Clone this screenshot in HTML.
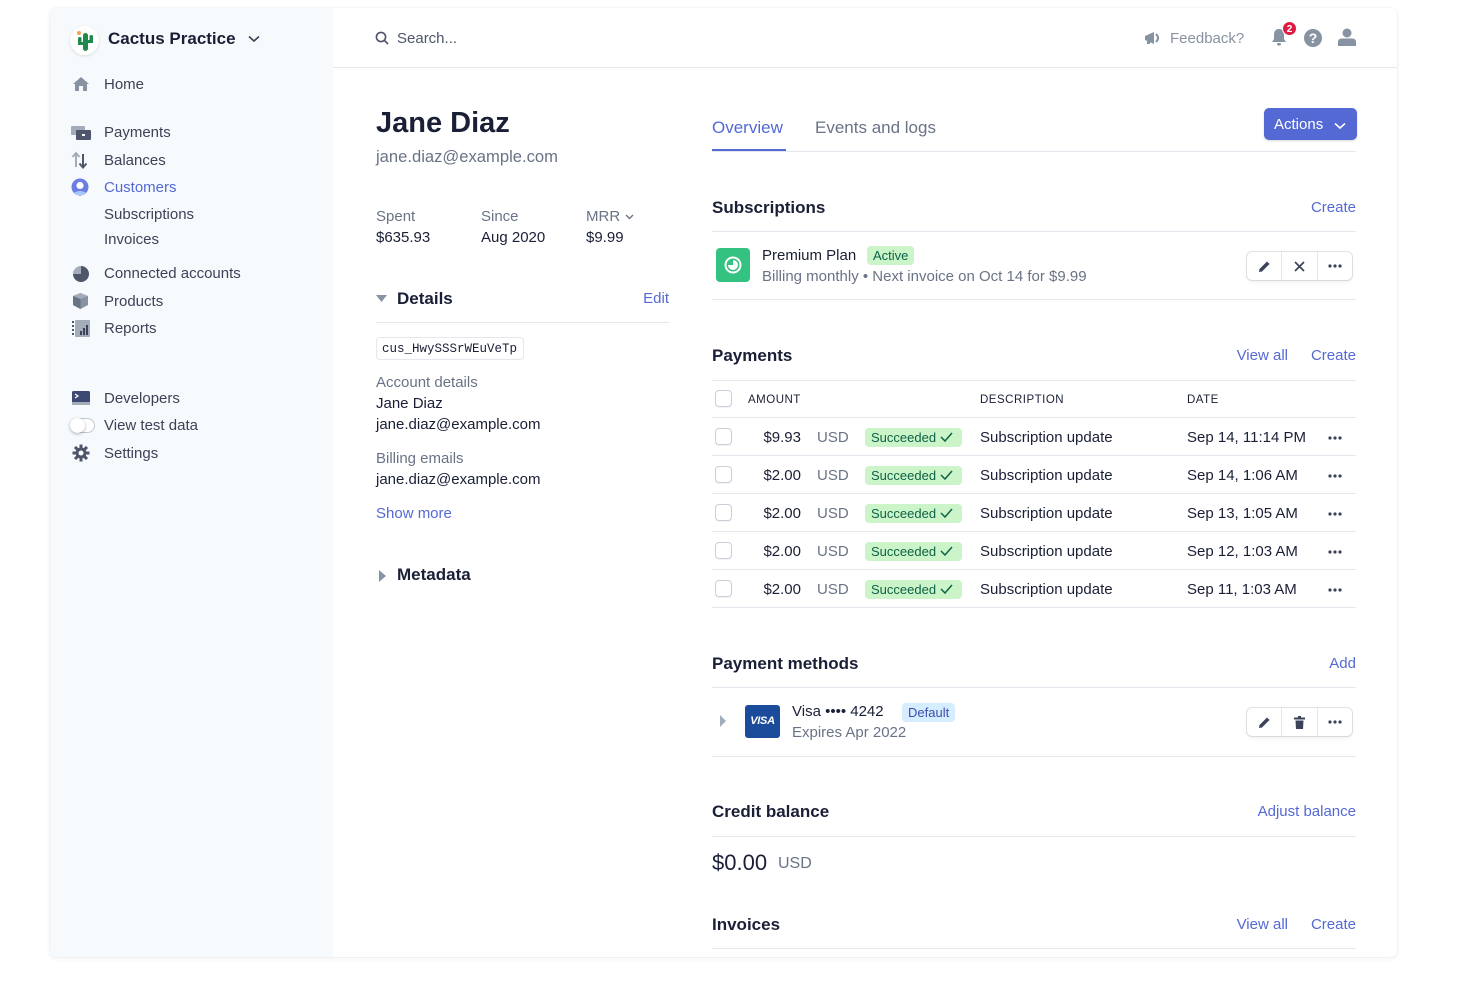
<!DOCTYPE html>
<html><head><meta charset="utf-8">
<style>
*{margin:0;padding:0;box-sizing:border-box}
html,body{width:1480px;height:987px;background:#fff;overflow:hidden}
body{font-family:"Liberation Sans",Arial,sans-serif;color:#3c4257;position:relative}
.t{position:absolute;white-space:nowrap;line-height:20px;font-size:15px;margin-top:1px}
.r{text-align:right}
.h{font-weight:bold;font-size:17px;color:#1a1f36}
.g{color:#697386}
.d{color:#1a1f36}
.b{color:#5469d4}
.ln{position:absolute;height:1px;background:#e3e8ee}
.card{position:absolute;left:50px;top:8px;width:1347px;height:949px;border-radius:6px;background:#fff;box-shadow:0 0 0 1px rgba(60,66,87,0.04),0 2px 6px rgba(60,66,87,0.05)}
.side{position:absolute;left:50px;top:8px;width:283px;height:949px;background:#f7fafc;border-radius:6px 0 0 6px}
.cb{position:absolute;width:17px;height:17px;border:1px solid #c9d0d9;border-radius:4px;background:#fff;box-shadow:0 1px 1px rgba(0,0,0,0.05)}
.bdg{position:absolute;height:19px;line-height:19px;font-size:13px;border-radius:4px;padding:0 6px;white-space:nowrap}
.suc{background:#cbf4c9;color:#0e6245}
.btns{position:absolute;width:105px;height:28px;border-radius:5px;background:#fff;box-shadow:0 0 0 1px rgba(60,66,87,0.14),0 2px 4px rgba(60,66,87,0.08);display:flex}
.btns div{flex:1;display:flex;align-items:center;justify-content:center;border-left:1px solid #e3e8ee}
.btns div:first-child{border-left:none}
.ic{position:absolute}
</style></head><body>
<div class="card"></div>
<div class="side"></div>

<!-- Sidebar -->
<div class="ic" style="left:70px;top:26px;width:29px;height:29px;border-radius:50%;background:#fff;box-shadow:0 1px 3px rgba(0,0,0,0.12)"></div>
<svg class="ic" style="left:74px;top:28px" width="22" height="26" viewBox="0 0 22 26">
<circle cx="5" cy="5" r="2" fill="#f5a04a"/>
<rect x="9" y="5" width="5" height="18" rx="2.5" fill="#1f8a4c"/>
<rect x="4" y="9" width="3.5" height="8" rx="1.7" fill="#1f8a4c"/>
<rect x="4" y="14" width="7" height="3" fill="#1f8a4c"/>
<rect x="15.5" y="7" width="3.5" height="8" rx="1.7" fill="#1f8a4c"/>
<rect x="12" y="12" width="7" height="3" fill="#1f8a4c"/>
</svg>
<div class="t d" style="left:108px;top:28px;font-size:17px;font-weight:bold;color:#1a1f36">Cactus Practice</div>
<svg class="ic" style="left:248px;top:35px" width="12" height="8" viewBox="0 0 12 8"><path d="M1 1.5 L6 6 L11 1.5" fill="none" stroke="#3c4257" stroke-width="1.6"/></svg>

<svg class="ic" style="left:72px;top:76px" width="18" height="16" viewBox="0 0 18 16"><path d="M9 1 L17 8 L15 8 L15 15 L11 15 L11 10 L7 10 L7 15 L3 15 L3 8 L1 8 Z" fill="#8792a2"/></svg>
<div class="t" style="left:104px;top:74px">Home</div>

<svg class="ic" style="left:71px;top:126px" width="20" height="14" viewBox="0 0 20 14"><rect x="0" y="0" width="14" height="9" rx="1" fill="#a3acb9"/><rect x="5" y="4" width="15" height="10" rx="1" fill="#4f566b"/><rect x="11" y="8" width="3" height="2" fill="#fff"/></svg>
<div class="t" style="left:104px;top:122px">Payments</div>
<svg class="ic" style="left:71px;top:151px" width="18" height="18" viewBox="0 0 18 18"><path d="M5 16 L5 3 M1.5 6 L5 2 L8.5 6" fill="none" stroke="#a3acb9" stroke-width="2"/><path d="M12 3 L12 16 M8.5 12.5 L12 16.5 L15.5 12.5" fill="none" stroke="#4f566b" stroke-width="2"/></svg>
<div class="t" style="left:104px;top:150px">Balances</div>
<svg class="ic" style="left:71px;top:178px" width="18" height="18" viewBox="0 0 18 18"><circle cx="9" cy="9" r="8.5" fill="#6c7ee1"/><circle cx="9" cy="7.5" r="3.6" fill="#fff"/><path d="M3 15 Q9 11 15 15 L13 17 L5 17Z" fill="#a8c7fa"/></svg>
<div class="t b" style="left:104px;top:177px">Customers</div>
<div class="t" style="left:104px;top:204px">Subscriptions</div>
<div class="t" style="left:104px;top:229px">Invoices</div>

<svg class="ic" style="left:72px;top:265px" width="18" height="18" viewBox="0 0 18 18"><circle cx="9" cy="9" r="8" fill="#e3e8ee"/><path d="M9 1 A8 8 0 1 1 1 9 L9 9 Z" fill="#4f566b"/><path d="M9 1 A8 8 0 0 0 1 9 L9 9Z" fill="#a3acb9"/></svg>
<div class="t" style="left:104px;top:263px">Connected accounts</div>
<svg class="ic" style="left:72px;top:292px" width="17" height="18" viewBox="0 0 17 18"><path d="M8.5 1 L16 4 L16 13 L8.5 17 L1 13 L1 4Z" fill="#8792a2"/><path d="M8.5 1 L16 4 L8.5 7 L1 4Z" fill="#a3acb9"/><path d="M8.5 7 L8.5 17 L1 13 L1 4Z" fill="#697386"/></svg>
<div class="t" style="left:104px;top:291px">Products</div>
<svg class="ic" style="left:72px;top:320px" width="18" height="17" viewBox="0 0 18 17"><rect x="3" y="0" width="15" height="17" rx="1" fill="#a3acb9"/><rect x="0" y="1" width="2" height="2" fill="#4f566b"/><rect x="0" y="5" width="2" height="2" fill="#4f566b"/><rect x="0" y="9" width="2" height="2" fill="#4f566b"/><rect x="0" y="13" width="2" height="2" fill="#4f566b"/><rect x="8" y="11" width="2" height="4" fill="#3c4257"/><rect x="11" y="8" width="2" height="7" fill="#3c4257"/><rect x="14" y="5" width="2" height="10" fill="#3c4257"/></svg>
<div class="t" style="left:104px;top:318px">Reports</div>

<svg class="ic" style="left:72px;top:391px" width="18" height="14" viewBox="0 0 18 14"><rect width="18" height="14" rx="1.5" fill="#3c4a72"/><path d="M3 3 L6 5 L3 7" fill="none" stroke="#fff" stroke-width="1.2"/><rect y="11" width="18" height="3" fill="#a3acb9"/></svg>
<div class="t" style="left:104px;top:388px">Developers</div>
<div class="ic" style="left:70px;top:418px;width:25px;height:15px;border-radius:8px;background:#fff;border:1px solid #c1c9d2"></div>
<div class="ic" style="left:70px;top:418px;width:15px;height:15px;border-radius:50%;background:#fff;box-shadow:0 1px 3px rgba(0,0,0,0.3)"></div>
<div class="t" style="left:104px;top:415px">View test data</div>
<svg class="ic" style="left:72px;top:444px" width="18" height="18" viewBox="0 0 18 18"><g fill="#4f566b"><circle cx="9" cy="9" r="5.5"/><rect x="7.5" y="0.5" width="3" height="17"/><rect x="0.5" y="7.5" width="17" height="3"/><rect x="7.5" y="0.5" width="3" height="17" transform="rotate(45 9 9)"/><rect x="7.5" y="0.5" width="3" height="17" transform="rotate(-45 9 9)"/></g><circle cx="9" cy="9" r="2.5" fill="#f7fafc"/></svg>
<div class="t" style="left:104px;top:443px">Settings</div>

<!-- Header -->
<div class="ln" style="left:333px;top:67px;width:1064px"></div>
<svg class="ic" style="left:375px;top:31px" width="14" height="14" viewBox="0 0 14 14"><circle cx="6" cy="6" r="4.6" fill="none" stroke="#4f566b" stroke-width="1.6"/><path d="M9.5 9.5 L13 13" stroke="#4f566b" stroke-width="1.6"/></svg>
<div class="t" style="left:397px;top:28px;color:#4f566b">Search...</div>

<svg class="ic" style="left:1144px;top:31px" width="18" height="14" viewBox="0 0 18 14"><path d="M1 5 L10 1 L10 13 L1 9Z" fill="#8792a2"/><rect x="3" y="9" width="3" height="4" fill="#8792a2"/><path d="M12 3 Q16 7 12 11" fill="none" stroke="#8792a2" stroke-width="2"/></svg>
<div class="t" style="left:1170px;top:28px;color:#8792a2">Feedback?</div>
<svg class="ic" style="left:1271px;top:28px" width="16" height="19" viewBox="0 0 16 19"><path d="M8 1 C4 1 3 4 3 7 L3 11 L1 14 L15 14 L13 11 L13 7 C13 4 12 1 8 1Z" fill="#8792a2"/><rect x="6" y="15" width="4" height="2.5" rx="1.2" fill="#8792a2"/></svg>
<div class="ic" style="left:1282px;top:21px;width:15px;height:15px;border-radius:50%;background:#df1b41;color:#fff;font-size:10px;font-weight:bold;line-height:15px;text-align:center;border:1px solid #fff">2</div>
<div class="ic" style="left:1304px;top:29px;width:18px;height:18px;border-radius:50%;background:#8792a2;color:#fff;font-size:14px;font-weight:bold;line-height:18px;text-align:center">?</div>
<svg class="ic" style="left:1338px;top:28px" width="18" height="18" viewBox="0 0 18 18"><circle cx="9" cy="5" r="4.5" fill="#8792a2"/><path d="M0 18 L0 14 Q0 10.5 4 10.5 L14 10.5 Q18 10.5 18 14 L18 18Z" fill="#8792a2"/></svg>

<!-- Left column -->
<div class="t" style="left:376px;top:105px;font-size:29px;line-height:34px;font-weight:bold;color:#1a1f36">Jane Diaz</div>
<div class="t g" style="left:376px;top:146px;font-size:16.6px">jane.diaz@example.com</div>

<div class="t g" style="left:376px;top:206px">Spent</div>
<div class="t d" style="left:376px;top:227px">$635.93</div>
<div class="t g" style="left:481px;top:206px">Since</div>
<div class="t d" style="left:481px;top:227px">Aug 2020</div>
<div class="t g" style="left:586px;top:206px">MRR</div>
<svg class="ic" style="left:625px;top:214px" width="9" height="6" viewBox="0 0 9 6"><path d="M1 1 L4.5 4.5 L8 1" fill="none" stroke="#697386" stroke-width="1.4"/></svg>
<div class="t d" style="left:586px;top:227px">$9.99</div>

<svg class="ic" style="left:376px;top:295px" width="11" height="8" viewBox="0 0 11 8"><path d="M0 0 L11 0 L5.5 7Z" fill="#8792a2"/></svg>
<div class="t h" style="left:397px;top:288px">Details</div>
<div class="t b r" style="left:600px;top:288px;width:69px">Edit</div>
<div class="ln" style="left:376px;top:322px;width:293px"></div>
<div class="ic" style="left:376px;top:337px;width:148px;height:23px;border:1px solid #e3e8ee;border-radius:4px;background:#fff"></div>
<div class="t d" style="left:382px;top:338px;font-family:'Liberation Mono',monospace;font-size:12.5px;color:#1a1f36">cus_HwySSSrWEuVeTp</div>

<div class="t g" style="left:376px;top:372px">Account details</div>
<div class="t d" style="left:376px;top:393px;color:#1a1f36">Jane Diaz</div>
<div class="t d" style="left:376px;top:414px">jane.diaz@example.com</div>
<div class="t g" style="left:376px;top:448px">Billing emails</div>
<div class="t d" style="left:376px;top:469px">jane.diaz@example.com</div>
<div class="t b" style="left:376px;top:503px">Show more</div>

<svg class="ic" style="left:379px;top:570px" width="7" height="12" viewBox="0 0 7 12"><path d="M0 0 L7 6 L0 12Z" fill="#8792a2"/></svg>
<div class="t h" style="left:397px;top:564px">Metadata</div>

<!-- Right column -->
<div class="t b" style="left:712px;top:116px;font-size:17px;line-height:22px">Overview</div>
<div class="t g" style="left:815px;top:116px;font-size:17px;line-height:22px;color:#697386">Events and logs</div>
<div class="ln" style="left:712px;top:151px;width:644px"></div>
<div class="ic" style="left:712px;top:149px;width:74px;height:2px;background:#5469d4"></div>

<div class="ic" style="left:1264px;top:108px;width:93px;height:32px;border-radius:5px;background:#5469d4;box-shadow:0 1px 2px rgba(0,0,0,0.15)"></div>
<div class="t" style="left:1274px;top:114px;color:#fff">Actions</div>
<svg class="ic" style="left:1334px;top:122px" width="12" height="8" viewBox="0 0 12 8"><path d="M1 1.5 L6 6 L11 1.5" fill="none" stroke="#fff" stroke-width="1.6"/></svg>

<!-- Subscriptions -->
<div class="t h" style="left:712px;top:197px">Subscriptions</div>
<div class="t b r" style="left:1256px;top:197px;width:100px">Create</div>
<div class="ln" style="left:712px;top:231px;width:644px"></div>
<div class="ic" style="left:716px;top:248px;width:34px;height:34px;border-radius:4px;background:#33c27f"></div>
<svg class="ic" style="left:723px;top:255px" width="20" height="20" viewBox="0 0 20 20"><circle cx="10" cy="10" r="7.5" fill="none" stroke="#fff" stroke-width="2"/><path d="M10 5 A5 5 0 1 1 5 10 L10 10Z" fill="#fff"/></svg>
<div class="t d" style="left:762px;top:245px">Premium Plan</div>
<div class="bdg suc" style="left:867px;top:246px">Active</div>
<div class="t g" style="left:762px;top:266px">Billing monthly • Next invoice on Oct 14 for $9.99</div>
<div class="btns" style="left:1247px;top:252px">
 <div><svg width="13" height="13" viewBox="0 0 13 13"><path d="M1 12 L1.5 9 L9 1.5 L11.5 4 L4 11.5Z" fill="#3c4257"/></svg></div>
 <div><svg width="11" height="11" viewBox="0 0 11 11"><path d="M1 1 L10 10 M10 1 L1 10" stroke="#3c4257" stroke-width="1.7"/></svg></div>
 <div><svg width="14" height="4" viewBox="0 0 14 4"><circle cx="2" cy="2" r="1.6" fill="#3c4257"/><circle cx="7" cy="2" r="1.6" fill="#3c4257"/><circle cx="12" cy="2" r="1.6" fill="#3c4257"/></svg></div>
</div>
<div class="ln" style="left:712px;top:299px;width:644px"></div>

<!-- Payments -->
<div class="t h" style="left:712px;top:345px">Payments</div>
<div class="t b r" style="left:1188px;top:345px;width:100px">View all</div>
<div class="t b r" style="left:1256px;top:345px;width:100px">Create</div>
<div class="ln" style="left:712px;top:380px;width:644px"></div>

<div class="cb" style="left:715px;top:390px"></div>
<div class="t d" style="left:748px;top:389px;font-size:11.5px;letter-spacing:0.5px;color:#1a1f36">AMOUNT</div>
<div class="t d" style="left:980px;top:389px;font-size:11.5px;letter-spacing:0.5px;color:#1a1f36">DESCRIPTION</div>
<div class="t d" style="left:1187px;top:389px;font-size:11.5px;letter-spacing:0.5px;color:#1a1f36">DATE</div>
<div class="ln" style="left:712px;top:417px;width:644px"></div>

<!-- rows -->
<div class="cb" style="left:715px;top:428px"></div>
<div class="t d r" style="left:720px;top:427px;width:81px">$9.93</div>
<div class="t g" style="left:817px;top:427px">USD</div>
<div class="bdg suc" style="left:865px;top:428px;width:97px">Succeeded <svg width="13" height="10" viewBox="0 0 13 10"><path d="M1 5 L5 9 L12 1" fill="none" stroke="#0e6245" stroke-width="1.5"/></svg></div>
<div class="t d" style="left:980px;top:427px">Subscription update</div>
<div class="t d" style="left:1187px;top:427px">Sep 14, 11:14 PM</div>
<svg class="ic" style="left:1328px;top:436px" width="14" height="4" viewBox="0 0 14 4"><circle cx="2" cy="2" r="1.6" fill="#3c4257"/><circle cx="7" cy="2" r="1.6" fill="#3c4257"/><circle cx="12" cy="2" r="1.6" fill="#3c4257"/></svg>
<div class="ln" style="left:712px;top:455px;width:644px"></div>

<div class="cb" style="left:715px;top:466px"></div>
<div class="t d r" style="left:720px;top:465px;width:81px">$2.00</div>
<div class="t g" style="left:817px;top:465px">USD</div>
<div class="bdg suc" style="left:865px;top:466px;width:97px">Succeeded <svg width="13" height="10" viewBox="0 0 13 10"><path d="M1 5 L5 9 L12 1" fill="none" stroke="#0e6245" stroke-width="1.5"/></svg></div>
<div class="t d" style="left:980px;top:465px">Subscription update</div>
<div class="t d" style="left:1187px;top:465px">Sep 14, 1:06 AM</div>
<svg class="ic" style="left:1328px;top:474px" width="14" height="4" viewBox="0 0 14 4"><circle cx="2" cy="2" r="1.6" fill="#3c4257"/><circle cx="7" cy="2" r="1.6" fill="#3c4257"/><circle cx="12" cy="2" r="1.6" fill="#3c4257"/></svg>
<div class="ln" style="left:712px;top:493px;width:644px"></div>

<div class="cb" style="left:715px;top:504px"></div>
<div class="t d r" style="left:720px;top:503px;width:81px">$2.00</div>
<div class="t g" style="left:817px;top:503px">USD</div>
<div class="bdg suc" style="left:865px;top:504px;width:97px">Succeeded <svg width="13" height="10" viewBox="0 0 13 10"><path d="M1 5 L5 9 L12 1" fill="none" stroke="#0e6245" stroke-width="1.5"/></svg></div>
<div class="t d" style="left:980px;top:503px">Subscription update</div>
<div class="t d" style="left:1187px;top:503px">Sep 13, 1:05 AM</div>
<svg class="ic" style="left:1328px;top:512px" width="14" height="4" viewBox="0 0 14 4"><circle cx="2" cy="2" r="1.6" fill="#3c4257"/><circle cx="7" cy="2" r="1.6" fill="#3c4257"/><circle cx="12" cy="2" r="1.6" fill="#3c4257"/></svg>
<div class="ln" style="left:712px;top:531px;width:644px"></div>

<div class="cb" style="left:715px;top:542px"></div>
<div class="t d r" style="left:720px;top:541px;width:81px">$2.00</div>
<div class="t g" style="left:817px;top:541px">USD</div>
<div class="bdg suc" style="left:865px;top:542px;width:97px">Succeeded <svg width="13" height="10" viewBox="0 0 13 10"><path d="M1 5 L5 9 L12 1" fill="none" stroke="#0e6245" stroke-width="1.5"/></svg></div>
<div class="t d" style="left:980px;top:541px">Subscription update</div>
<div class="t d" style="left:1187px;top:541px">Sep 12, 1:03 AM</div>
<svg class="ic" style="left:1328px;top:550px" width="14" height="4" viewBox="0 0 14 4"><circle cx="2" cy="2" r="1.6" fill="#3c4257"/><circle cx="7" cy="2" r="1.6" fill="#3c4257"/><circle cx="12" cy="2" r="1.6" fill="#3c4257"/></svg>
<div class="ln" style="left:712px;top:569px;width:644px"></div>

<div class="cb" style="left:715px;top:580px"></div>
<div class="t d r" style="left:720px;top:579px;width:81px">$2.00</div>
<div class="t g" style="left:817px;top:579px">USD</div>
<div class="bdg suc" style="left:865px;top:580px;width:97px">Succeeded <svg width="13" height="10" viewBox="0 0 13 10"><path d="M1 5 L5 9 L12 1" fill="none" stroke="#0e6245" stroke-width="1.5"/></svg></div>
<div class="t d" style="left:980px;top:579px">Subscription update</div>
<div class="t d" style="left:1187px;top:579px">Sep 11, 1:03 AM</div>
<svg class="ic" style="left:1328px;top:588px" width="14" height="4" viewBox="0 0 14 4"><circle cx="2" cy="2" r="1.6" fill="#3c4257"/><circle cx="7" cy="2" r="1.6" fill="#3c4257"/><circle cx="12" cy="2" r="1.6" fill="#3c4257"/></svg>
<div class="ln" style="left:712px;top:607px;width:644px"></div>

<!-- Payment methods -->
<div class="t h" style="left:712px;top:653px">Payment methods</div>
<div class="t b r" style="left:1256px;top:653px;width:100px">Add</div>
<div class="ln" style="left:712px;top:687px;width:644px"></div>
<svg class="ic" style="left:720px;top:715px" width="6" height="12" viewBox="0 0 6 12"><path d="M0 0 L6 6 L0 12Z" fill="#a3acb9"/></svg>
<div class="ic" style="left:745px;top:705px;width:35px;height:33px;border-radius:3px;background:#1a4c9b;color:#fff;font-size:11px;font-weight:bold;font-style:italic;line-height:33px;text-align:center;letter-spacing:-0.3px">VISA</div>
<div class="t d" style="left:792px;top:701px">Visa •••• 4242</div>
<div class="bdg" style="left:902px;top:703px;background:#d6ecff;color:#3d4eac">Default</div>
<div class="t g" style="left:792px;top:722px">Expires Apr 2022</div>
<div class="btns" style="left:1247px;top:708px">
 <div><svg width="13" height="13" viewBox="0 0 13 13"><path d="M1 12 L1.5 9 L9 1.5 L11.5 4 L4 11.5Z" fill="#3c4257"/></svg></div>
 <div><svg width="11" height="13" viewBox="0 0 11 13"><rect x="0" y="1.5" width="11" height="2" fill="#3c4257"/><rect x="4" y="0" width="3" height="2" fill="#3c4257"/><path d="M1.5 4.5 L9.5 4.5 L9 13 L2 13Z" fill="#3c4257"/></svg></div>
 <div><svg width="14" height="4" viewBox="0 0 14 4"><circle cx="2" cy="2" r="1.6" fill="#3c4257"/><circle cx="7" cy="2" r="1.6" fill="#3c4257"/><circle cx="12" cy="2" r="1.6" fill="#3c4257"/></svg></div>
</div>
<div class="ln" style="left:712px;top:756px;width:644px"></div>

<!-- Credit balance -->
<div class="t h" style="left:712px;top:801px">Credit balance</div>
<div class="t b r" style="left:1156px;top:801px;width:200px">Adjust balance</div>
<div class="ln" style="left:712px;top:836px;width:644px"></div>
<div class="t d" style="left:712px;top:849px;font-size:22px;line-height:26px">$0.00</div>
<div class="t g" style="left:778px;top:853px;font-size:16px">USD</div>

<!-- Invoices -->
<div class="t h" style="left:712px;top:914px">Invoices</div>
<div class="t b r" style="left:1188px;top:914px;width:100px">View all</div>
<div class="t b r" style="left:1256px;top:914px;width:100px">Create</div>
<div class="ln" style="left:712px;top:948px;width:644px"></div>
</body></html>
